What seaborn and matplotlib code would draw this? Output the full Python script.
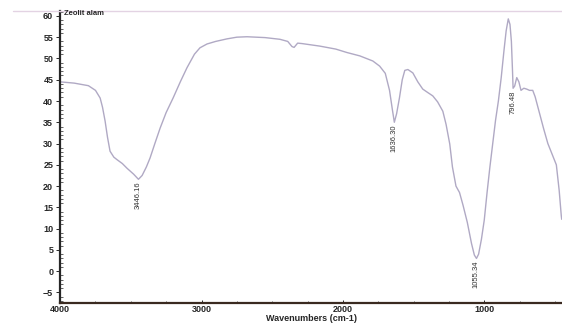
import matplotlib
matplotlib.use("Agg")
import matplotlib.pyplot as plt
import seaborn as sns
import pandas as pd
from matplotlib.ticker import MultipleLocator
from matplotlib.lines import Line2D

# ---- data ----
wavenumber = [4000, 3900, 3800, 3750, 3717, 3700, 3682, 3665, 3647, 3620, 3597,
              3560, 3527, 3480, 3446, 3420, 3390, 3364, 3330, 3293, 3250, 3201,
              3150, 3103, 3050, 3011, 2961, 2900, 2820, 2750, 2678, 2550, 2445,
              2390, 2360, 2345, 2320, 2290, 2163, 2050, 1972, 1880, 1788, 1740,
              1700, 1670, 1650, 1636, 1620, 1600, 1580, 1562, 1540, 1505, 1470,
              1435, 1400, 1364, 1330, 1293, 1270, 1244, 1225, 1200, 1175, 1150,
              1120, 1090, 1070, 1055, 1040, 1020, 1000, 980, 960, 940, 920, 900,
              880, 860, 845, 830, 818, 808, 800, 796, 785, 770, 755, 740, 720,
              700, 680, 657, 640, 620, 608, 580, 550, 520, 490, 470, 455, 452]
transmittance = [44.5, 44.2, 43.6, 42.5, 40.7, 38.5, 35.3, 31.5, 28.2, 26.8, 26.2,
                 25.3, 24.2, 22.8, 21.6, 22.5, 24.5, 26.6, 30.0, 33.6, 37.3, 40.7,
                 44.5, 47.8, 51.0, 52.5, 53.4, 54.0, 54.6, 55.0, 55.1, 54.9, 54.5,
                 54.0, 52.8, 52.6, 53.6, 53.5, 52.9, 52.2, 51.4, 50.6, 49.4, 48.2,
                 46.5, 42.5, 38.0, 35.0, 37.0, 40.7, 45.0, 47.2, 47.4, 46.6, 44.5,
                 42.8, 42.0, 41.2, 39.8, 37.6, 34.5, 29.9, 24.5, 20.0, 18.5, 15.5,
                 11.5, 6.5, 3.8, 3.0, 4.0, 7.5, 12.0, 18.5, 24.5, 30.0, 35.5, 40.0,
                 45.5, 52.0, 56.5, 59.3, 58.0, 54.0, 47.0, 43.0, 43.5, 45.5, 44.5,
                 42.5, 43.0, 42.8, 42.5, 42.5, 41.0, 38.5, 37.0, 33.5, 30.0, 27.5,
                 25.0, 19.0, 13.0, 12.2]

peak_x = [3446.16, 1636.30, 1055.34, 796.48]
peak_y = [21.6, 35.0, 3.0, 43.0]
peak_labels = ["3446.16", "1636.30", "1055.34", "796.48"]

spec = pd.DataFrame({"wn": wavenumber, "T": transmittance})

sns.set_style("white")
plt.rcParams["font.family"] = ["Liberation Sans", "DejaVu Sans"]

fig = plt.figure(figsize=(5.62, 3.27), dpi=100)
ax = fig.add_axes([0.107, 0.073, 0.893, 0.894])

sns.lineplot(data=spec, x="wn", y="T", ax=ax, color="#b0a9c4",
             linewidth=1.0, sort=False, estimator=None)

for px, py, lab in zip(peak_x, peak_y, peak_labels):
    ax.text(px, py - 0.5, lab, rotation=90, ha="center", va="top",
            fontsize=5.5, color="#333333")

ax.text(3970, 60.6, "Zeolit alam", fontsize=5.5, fontweight="bold",
        ha="left", va="center")

ax.set_xlim(4000, 450)
ax.set_ylim(-7.5, 61.2)
ax.xaxis.set_major_locator(MultipleLocator(1000))
ax.xaxis.set_minor_locator(MultipleLocator(250))
ax.yaxis.set_major_locator(MultipleLocator(5))
ax.yaxis.set_minor_locator(MultipleLocator(1))
ax.tick_params(axis="y", which="major", direction="out", length=3,
               width=0.7, labelsize=6.5, pad=2)
ax.tick_params(axis="x", which="major", direction="in", length=2,
               width=0.7, labelsize=6.5, pad=1)
ax.tick_params(axis="y", which="minor", direction="in", length=2, width=0.5)
ax.tick_params(axis="x", which="minor", direction="in", length=1.5, width=0.5)
ax.tick_params(bottom=True, left=True, which="both")
for lbl in ax.get_xticklabels() + ax.get_yticklabels():
    lbl.set_fontweight("bold")

ax.set_xlabel("Wavenumbers (cm-1)", fontsize=6.5, fontweight="bold", labelpad=0)
ax.set_ylabel("")

ax.spines["right"].set_visible(False)
ax.spines["top"].set_color("#e3d3e3")
ax.spines["top"].set_linewidth(1.0)
ax.spines["left"].set_linewidth(1.6)
ax.spines["bottom"].set_linewidth(1.6)
ax.spines["bottom"].set_color("#3a2a20")

# faint top rule continuing to the left edge
fig.add_artist(Line2D([0.023, 0.107], [0.967, 0.967], color="#e3d3e3",
                      linewidth=1.0, transform=fig.transFigure))

fig.savefig("out.png", dpi=100)
